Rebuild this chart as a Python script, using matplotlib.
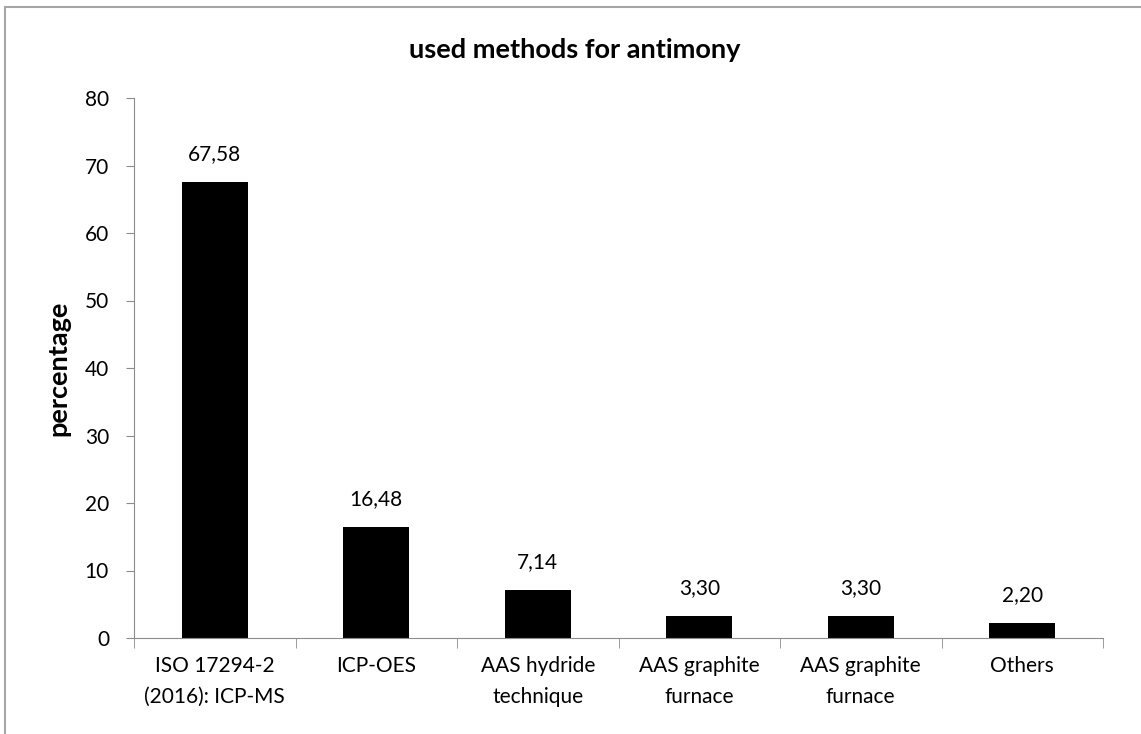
import matplotlib.pyplot as plt
from matplotlib.patches import Rectangle

# data
methods = [
    "ISO 17294-2\n(2016): ICP-MS",
    "ICP-OES",
    "AAS hydride\ntechnique",
    "AAS graphite\nfurnace",
    "AAS graphite\nfurnace",
    "Others",
]
percentages = [67.58, 16.48, 7.14, 3.30, 3.30, 2.20]
y_ticks = [0, 10, 20, 30, 40, 50, 60, 70, 80]

plt.rcParams["font.family"] = ["Lato", "DejaVu Sans"]
axis_color = "#8c8c8c"

fig = plt.figure(figsize=(11.41, 7.34), dpi=100)
ax = fig.add_axes([134 / 1141, 1 - 638 / 734, (1103 - 134) / 1141, 540 / 734])

# chart frame (cut off at right/bottom like the reference)
fig.patches.append(
    Rectangle((5 / 1141, -0.05), 1.1, 1 - 7 / 734 + 0.05, transform=fig.transFigure,
              fill=False, edgecolor="#a6a6a6", linewidth=1.5)
)

x = list(range(len(methods)))
bars = ax.bar(x, percentages, width=0.41, color="black")

for xi, v in zip(x, percentages):
    ax.annotate(f"{v:.2f}".replace(".", ","), (xi, v), xytext=(0, 13),
                textcoords="offset points", ha="center", va="bottom", fontsize=15)

ax.set_xlim(-0.5, len(methods) - 0.5)
ax.set_ylim(0, 80)
ax.set_yticks(y_ticks)
ax.tick_params(axis="y", labelsize=15, length=6, color=axis_color, pad=12)

# category labels centred, tick marks on the boundaries
ax.set_xticks(x)
ax.set_xticklabels(methods, fontsize=15, linespacing=1.7)
ax.tick_params(axis="x", which="major", length=0, pad=13)
ax.set_xticks([i - 0.5 for i in range(len(methods) + 1)], minor=True)
ax.tick_params(axis="x", which="minor", length=7, color=axis_color)

for s in ["top", "right"]:
    ax.spines[s].set_visible(False)
for s in ["left", "bottom"]:
    ax.spines[s].set_color(axis_color)

ax.set_ylabel("percentage", fontsize=19.5, fontweight="bold", labelpad=10)
fig.text(0.504, 1 - 50 / 734, "used methods for antimony", ha="center", va="center",
         fontsize=19.5, fontweight="bold")

fig.savefig("out.png", dpi=100)
